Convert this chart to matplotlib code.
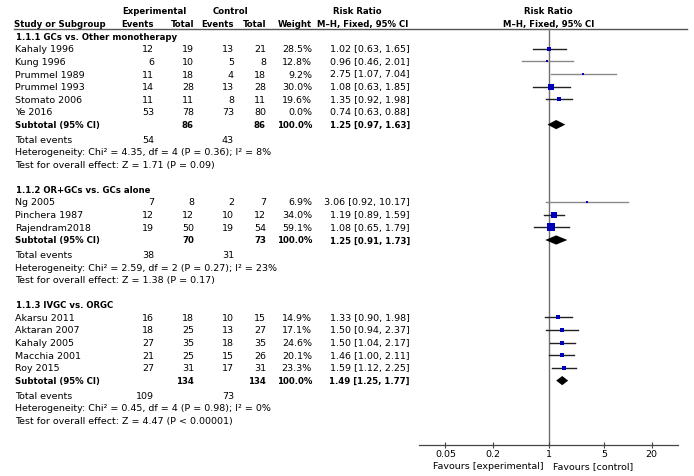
import matplotlib
matplotlib.use("Agg")
import matplotlib.pyplot as plt
import numpy as np

# ---------------- data ----------------
sections = ["1.1.1 GCs vs. Other monotherapy", "1.1.2 OR+GCs vs. GCs alone", "1.1.3 IVGC vs. ORGC"]

studies_1 = ["Kahaly 1996", "Kung 1996", "Prummel 1989", "Prummel 1993", "Stomato 2006", "Ye 2016"]
exp_events_1 = [12, 6, 11, 14, 11, 53]
exp_total_1 = [19, 10, 18, 28, 11, 78]
ctl_events_1 = [13, 5, 4, 13, 8, 73]
ctl_total_1 = [21, 8, 18, 28, 11, 80]
weight_1 = [28.5, 12.8, 9.2, 30.0, 19.6, 0.0]
rr_1 = [1.02, 0.96, 2.75, 1.08, 1.35, 0.74]
lo_1 = [0.63, 0.46, 1.07, 0.63, 0.92, 0.63]
hi_1 = [1.65, 2.01, 7.04, 1.85, 1.98, 0.88]

studies_2 = ["Ng 2005", "Pinchera 1987", "Rajendram2018"]
exp_events_2 = [7, 12, 19]
exp_total_2 = [8, 12, 50]
ctl_events_2 = [2, 10, 19]
ctl_total_2 = [7, 12, 54]
weight_2 = [6.9, 34.0, 59.1]
rr_2 = [3.06, 1.19, 1.08]
lo_2 = [0.92, 0.89, 0.65]
hi_2 = [10.17, 1.59, 1.79]

studies_3 = ["Akarsu 2011", "Aktaran 2007", "Kahaly 2005", "Macchia 2001", "Roy 2015"]
exp_events_3 = [16, 18, 27, 21, 27]
exp_total_3 = [18, 25, 35, 25, 31]
ctl_events_3 = [10, 13, 18, 15, 17]
ctl_total_3 = [15, 27, 35, 26, 31]
weight_3 = [14.9, 17.1, 24.6, 20.1, 23.3]
rr_3 = [1.33, 1.50, 1.50, 1.46, 1.59]
lo_3 = [0.90, 0.94, 1.04, 1.00, 1.12]
hi_3 = [1.98, 2.37, 2.17, 2.11, 2.25]

sub_exp_total = [86, 70, 134]
sub_ctl_total = [86, 73, 134]
sub_rr = [1.25, 1.25, 1.49]
sub_lo = [0.97, 0.91, 1.25]
sub_hi = [1.63, 1.73, 1.77]
tot_exp_events = [54, 38, 109]
tot_ctl_events = [43, 31, 73]
het_chi2 = [4.35, 2.59, 0.45]
het_df = [4, 2, 4]
het_p = ["0.36", "0.27", "0.98"]
het_i2 = [8, 23, 0]
z_val = [1.71, 1.38, 4.47]
z_p = ["= 0.09", "= 0.17", "< 0.00001"]

tick_values = [0.05, 0.2, 1, 5, 20]
tick_labels = ["0.05", "0.2", "1", "5", "20"]

groups = [
    (studies_1, exp_events_1, exp_total_1, ctl_events_1, ctl_total_1, weight_1, rr_1, lo_1, hi_1),
    (studies_2, exp_events_2, exp_total_2, ctl_events_2, ctl_total_2, weight_2, rr_2, lo_2, hi_2),
    (studies_3, exp_events_3, exp_total_3, ctl_events_3, ctl_total_3, weight_3, rr_3, lo_3, hi_3),
]

# ---------------- figure ----------------
W, H = 694, 477
fig = plt.figure(figsize=(W / 100, H / 100), dpi=100)
fig.patch.set_facecolor("white")
tax = fig.add_axes([0, 0, 1, 1])
tax.set_xlim(0, W)
tax.set_ylim(H, 0)
tax.axis("off")

FS = 6.8
FSB = 6.8
FAM = "DejaVu Sans"

def txt(x, y, s, ha="left", bold=False, **kw):
    if bold:
        tax.text(x, y, s, ha=ha, va="center", fontsize=FSB, family=FAM,
                 fontweight="bold", fontstretch="condensed", color="black", **kw)
    else:
        tax.text(x, y, s, ha=ha, va="center", fontsize=FS, family=FAM,
                 color="black", **kw)

# column positions
X_NAME = 15
X_EE, X_ET, X_CE, X_CT, X_W, X_RR = 154, 194, 234, 266, 312, 410

# headers
txt(154, 11, "Experimental", ha="center", bold=True)
txt(230, 11, "Control", ha="center", bold=True)
txt(357.5, 11, "Risk Ratio", ha="center", bold=True)
txt(548.5, 11, "Risk Ratio", ha="center", bold=True)
txt(X_NAME - 1, 24.3, "Study or Subgroup", bold=True)
txt(X_EE, 24.3, "Events", ha="right", bold=True)
txt(X_ET, 24.3, "Total", ha="right", bold=True)
txt(X_CE, 24.3, "Events", ha="right", bold=True)
txt(X_CT, 24.3, "Total", ha="right", bold=True)
txt(X_W, 24.3, "Weight", ha="right", bold=True)
txt(362.5, 24.3, "M\u2013H, Fixed, 95% CI", ha="center", bold=True)
txt(548.5, 24.3, "M\u2013H, Fixed, 95% CI", ha="center", bold=True)
tax.plot([14, 687], [30, 30], color="#555555", lw=1.0)

# forest axes (log scale)
PX_PER_DEC = 79.2
X1 = 548.5
AX_L, AX_R = 419, 678
xmin = 10 ** ((AX_L - X1) / PX_PER_DEC)
xmax = 10 ** ((AX_R - X1) / PX_PER_DEC)
fax = fig.add_axes([AX_L / W, 0, (AX_R - AX_L) / W, 1])
fax.set_xscale("log")
fax.set_xlim(xmin, xmax)
fax.set_ylim(H, 0)
fax.patch.set_alpha(0)
for s in ["top", "left", "right"]:
    fax.spines[s].set_visible(False)
fax.spines["bottom"].set_position(("data", 446))
fax.spines["bottom"].set_color("#444444")
fax.spines["bottom"].set_linewidth(0.9)
fax.yaxis.set_visible(False)
fax.set_xticks(tick_values)
fax.set_xticklabels(tick_labels)
fax.xaxis.set_minor_locator(matplotlib.ticker.NullLocator())
fax.tick_params(axis="x", direction="inout", length=5, width=0.8, color="#444444",
                pad=0.5, labelsize=FS)
for lab in fax.get_xticklabels():
    lab.set_family(FAM)

fax.plot([1, 1], [30, 446], color="#707070", lw=1.0, zorder=1)

SQ_COLOR = "#0000B8"
y = 37.0
for g, sec in enumerate(sections):
    names, ee, et, ce, ct, wt, rr, lo, hi = groups[g]
    txt(X_NAME + 1, y, sec, bold=True)
    y += 12.8
    for i in range(len(names)):
        txt(X_NAME, y, names[i])
        txt(X_EE, y, str(ee[i]), ha="right")
        txt(X_ET, y, str(et[i]), ha="right")
        txt(X_CE, y, str(ce[i]), ha="right")
        txt(X_CT, y, str(ct[i]), ha="right")
        txt(X_W, y, f"{wt[i]:.1f}%", ha="right")
        txt(X_RR, y, f"{rr[i]:.2f} [{lo[i]:.2f}, {hi[i]:.2f}]", ha="right")
        if wt[i] > 0:
            lc = "#8a8a8a" if hi[i] / lo[i] > 4 else "#222222"
            fax.plot([lo[i], hi[i]], [y, y], color=lc, lw=1.0, zorder=2)
            side_px = 1.2 + 0.13 * wt[i]
            fax.plot([rr[i]], [y], marker="s", ms=side_px * 0.72, mfc=SQ_COLOR,
                     mec=SQ_COLOR, mew=0, ls="none", zorder=3)
        y += 12.6
    y += 0.2
    txt(X_NAME, y, "Subtotal (95% CI)", bold=True)
    txt(X_ET, y, str(sub_exp_total[g]), ha="right", bold=True)
    txt(X_CT, y, str(sub_ctl_total[g]), ha="right", bold=True)
    txt(X_W, y, "100.0%", ha="right", bold=True)
    txt(X_RR, y, f"{sub_rr[g]:.2f} [{sub_lo[g]:.2f}, {sub_hi[g]:.2f}]", ha="right", bold=True)
    hh = 4.6
    fax.fill([sub_lo[g], sub_rr[g], sub_hi[g], sub_rr[g]], [y, y - hh, y, y + hh],
             color="black", zorder=3, lw=0)
    y += 15.0
    txt(X_NAME, y, "Total events")
    txt(X_EE, y, str(tot_exp_events[g]), ha="right")
    txt(X_CE, y, str(tot_ctl_events[g]), ha="right")
    y += 12.2
    txt(X_NAME, y, f"Heterogeneity: Chi\u00b2 = {het_chi2[g]:.2f}, df = {het_df[g]} (P = {het_p[g]}); I\u00b2 = {het_i2[g]}%")
    y += 12.4
    txt(X_NAME, y, f"Test for overall effect: Z = {z_val[g]:.2f} (P {z_p[g]})")
    y += 25.0

txt(544, 467, "Favours [experimental]", ha="right")
txt(553, 467, "Favours [control]", ha="left")

fig.savefig("out.png", dpi=100, facecolor="white")
